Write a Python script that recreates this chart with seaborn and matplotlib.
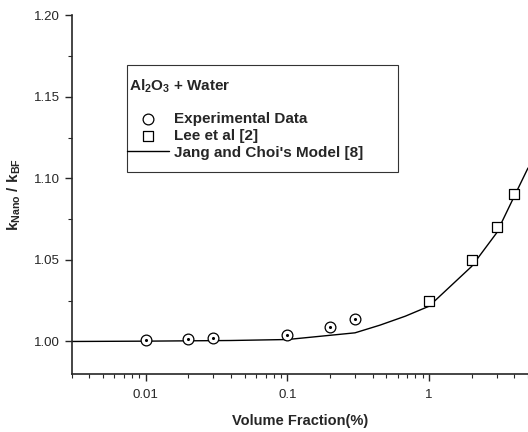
import numpy as np
import pandas as pd
import matplotlib
matplotlib.use("Agg")
import matplotlib.pyplot as plt
import seaborn as sns
from matplotlib.patches import Rectangle
from matplotlib.ticker import FixedLocator, MultipleLocator, LogLocator, NullFormatter

# =====================================
# Data
# =====================================

exp_x = [0.01, 0.02, 0.03, 0.1, 0.2, 0.3]
exp_y = [1.0012, 1.0018, 1.0024, 1.0041, 1.0088, 1.0135]

lee_x = [1, 2, 3, 4]
lee_y = [1.0247, 1.0498, 1.0700, 1.0904]

model_x = [0.003, 0.01, 0.04, 0.1, 0.3, 0.45, 0.68, 1, 2, 3, 4, 5]
model_y = [1.0000, 1.0002, 1.0006, 1.0012, 1.0053, 1.0100, 1.0155,
           1.0216, 1.0460, 1.0665, 1.0890, 1.1063]

exp_df = pd.DataFrame({"x": exp_x, "y": exp_y})
lee_df = pd.DataFrame({"x": lee_x, "y": lee_y})
model_df = pd.DataFrame({"x": model_x, "y": model_y})

# =====================================
# Style
# =====================================

sns.set_style("ticks")
plt.rcParams["font.family"] = ["Liberation Sans", "DejaVu Sans"]
plt.rcParams["mathtext.fontset"] = "custom"
plt.rcParams["mathtext.rm"] = "Liberation Sans"
plt.rcParams["mathtext.bf"] = "Liberation Sans:bold"

fig = plt.figure(figsize=(5.28, 4.32), dpi=100)
ax = fig.add_axes([0.136, 0.134, 0.864, 0.831])

# =====================================
# Plot
# =====================================

sns.lineplot(data=model_df, x="x", y="y", ax=ax, color="black",
             linewidth=1.0, label="Jang and Choi's Model [8]", zorder=2)

sns.scatterplot(data=exp_df, x="x", y="y", ax=ax, marker="o", s=60,
                facecolor="white", edgecolor="black", linewidth=0.9,
                label="Experimental Data", zorder=3)
ax.scatter(exp_x, exp_y, s=1.5, color="black", zorder=4)

sns.scatterplot(data=lee_df, x="x", y="y", ax=ax, marker="s", s=55,
                facecolor="white", edgecolor="black", linewidth=0.9,
                label="Lee et al [2]", zorder=3)

ax.set_xscale("log")
ax.set_xlim(0.003, 5)
ax.set_ylim(0.98, 1.20)

ax.xaxis.set_major_locator(FixedLocator([0.01, 0.1, 1]))
ax.set_xticklabels(["0.01", "0.1", "1"])
ax.xaxis.set_minor_locator(LogLocator(base=10, subs=np.arange(2, 10)))
ax.xaxis.set_minor_formatter(NullFormatter())

ax.yaxis.set_major_locator(FixedLocator([1.00, 1.05, 1.10, 1.15, 1.20]))
ax.set_yticklabels(["1.00", "1.05", "1.10", "1.15", "1.20"])
ax.yaxis.set_minor_locator(MultipleLocator(0.025))

ax.tick_params(which="major", direction="out", length=5, width=1, labelsize=9.5)
ax.tick_params(axis="x", which="major", pad=6)
ax.tick_params(which="minor", direction="out", length=3, width=0.8)

sns.despine(ax=ax)
for s in ["left", "bottom"]:
    ax.spines[s].set_linewidth(1.2)

ax.set_xlabel("Volume Fraction(%)", fontsize=10.5, fontweight="bold", labelpad=9)
ax.set_ylabel(r"$\mathbf{k_{Nano}}$ / $\mathbf{k_{BF}}$", fontsize=11,
              fontweight="bold", labelpad=8)

# =====================================
# Legend (box + title drawn separately)
# =====================================

ax.add_patch(Rectangle((0.1206, 0.5627), 0.5943, 0.298, transform=ax.transAxes,
                       facecolor="white", edgecolor="#333333", linewidth=0.8,
                       zorder=5))

ax.text(0.125, 0.791, r"$\mathbf{Al_2O_3}$ + Water", transform=ax.transAxes,
        fontsize=11, fontweight="bold", va="baseline", ha="left", zorder=6)

handles, labels = ax.get_legend_handles_labels()
order = [1, 2, 0]
leg = ax.legend(
    [handles[i] for i in order], [labels[i] for i in order],
    loc="upper left", bbox_to_anchor=(0.121, 0.730),
    borderaxespad=0, frameon=False, borderpad=0,
    handlelength=2.75, handletextpad=0.3, labelspacing=0.18,
    prop={"size": 11, "weight": "bold"},
)
leg.set_zorder(7)

plt.savefig("out.png", dpi=100)
